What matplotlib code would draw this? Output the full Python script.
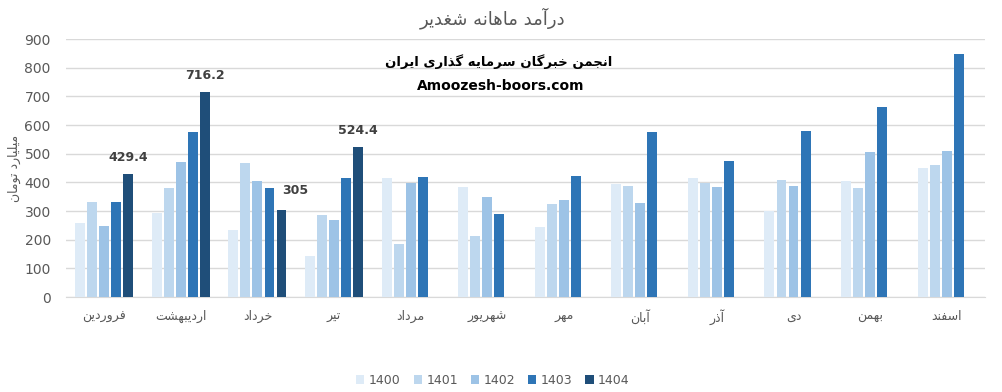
import numpy as np
import matplotlib
matplotlib.use("Agg")
import matplotlib.pyplot as plt
from matplotlib.patches import Patch

# ---------------- data ----------------
months = ["فروردین", "اردیبهشت", "خرداد", "تیر", "مرداد", "شهریور",
          "مهر", "آبان", "آذر", "دی", "بهمن", "اسفند"]
years = ["1400", "1401", "1402", "1403", "1404"]
v1400 = [258, 294, 234, 143, 416, 384, 245, 395, 416, 300, 405, 451]
v1401 = [332, 381, 468, 287, 185, 213, 325, 388, 398, 409, 381, 461]
v1402 = [248, 472, 405, 269, 398, 350, 339, 328, 384, 388, 507, 510]
v1403 = [332, 577, 381, 416, 419, 290, 423, 577, 475, 580, 664, 849]
v1404 = [429.4, 716.2, 305, 524.4, None, None, None, None, None, None, None, None]
series = [v1400, v1401, v1402, v1403, v1404]
colors = ["#DEEBF7", "#BDD7EE", "#9DC3E6", "#2E75B6", "#1F4E79"]
title_text = "درآمد ماهانه شغدیر"
ylabel_text = "میلیارد تومان"
wm1 = "انجمن خبرگان سرمایه گذاری ایران"
wm2 = "Amoozesh-boors.com"

# ------------- minimal Persian shaping (presentation forms) -------------
FORMS = {  # iso, fin, ini, med
    "ا": ("\uFE8D", "\uFE8E", None, None),
    "آ": ("\uFE81", "\uFE82", None, None),
    "ب": ("\uFE8F", "\uFE90", "\uFE91", "\uFE92"),
    "ت": ("\uFE95", "\uFE96", "\uFE97", "\uFE98"),
    "ج": ("\uFE9D", "\uFE9E", "\uFE9F", "\uFEA0"),
    "خ": ("\uFEA5", "\uFEA6", "\uFEA7", "\uFEA8"),
    "د": ("\uFEA9", "\uFEAA", None, None),
    "ذ": ("\uFEAB", "\uFEAC", None, None),
    "ر": ("\uFEAD", "\uFEAE", None, None),
    "ز": ("\uFEAF", "\uFEB0", None, None),
    "س": ("\uFEB1", "\uFEB2", "\uFEB3", "\uFEB4"),
    "ش": ("\uFEB5", "\uFEB6", "\uFEB7", "\uFEB8"),
    "غ": ("\uFECD", "\uFECE", "\uFECF", "\uFED0"),
    "ف": ("\uFED1", "\uFED2", "\uFED3", "\uFED4"),
    "ل": ("\uFEDD", "\uFEDE", "\uFEDF", "\uFEE0"),
    "م": ("\uFEE1", "\uFEE2", "\uFEE3", "\uFEE4"),
    "ن": ("\uFEE5", "\uFEE6", "\uFEE7", "\uFEE8"),
    "ه": ("\uFEE9", "\uFEEA", "\uFEEB", "\uFEEC"),
    "و": ("\uFEED", "\uFEEE", None, None),
    "ی": ("\uFBFC", "\uFBFD", "\uFBFE", "\uFBFF"),
    "پ": ("\uFB56", "\uFB57", "\uFB58", "\uFB59"),
    "ک": ("\uFB8E", "\uFB8F", "\uFB90", "\uFB91"),
    "گ": ("\uFB92", "\uFB93", "\uFB94", "\uFB95"),
}


def shape(s):
    out = []
    n = len(s)
    for i, c in enumerate(s):
        if c not in FORMS:
            out.append(c)
            continue
        f = FORMS[c]
        dual = f[2] is not None
        prev = s[i - 1] if i > 0 else None
        nxt = s[i + 1] if i + 1 < n else None
        jp = prev in FORMS and FORMS[prev][2] is not None
        jn = dual and nxt in FORMS
        if jp and jn:
            out.append(f[3])
        elif jp:
            out.append(f[1])
        elif jn:
            out.append(f[2])
        else:
            out.append(f[0])
    return "".join(out)[::-1]


plt.rcParams["font.family"] = ["DejaVu Sans"]

fig = plt.figure(figsize=(10.02, 3.92), dpi=100)
ax = fig.add_axes([0.0659, 0.2423, 0.9171, 0.6582])

x = np.arange(len(months))
step = 0.157
width = 0.13
for j, (vals, col) in enumerate(zip(series, colors)):
    xs = [xi + (j - 2) * step for xi, v in zip(x, vals) if v is not None]
    hs = [v for v in vals if v is not None]
    ax.bar(xs, hs, width=width, color=col, zorder=3)

# data labels for 1404
offsets = [(0, 7), (0, 7), (10, 9), (0, 7)]
for xi, v, off in zip(x, v1404, offsets):
    if v is None:
        continue
    lab = f"{v:g}"
    ax.annotate(lab, (xi + 2 * step, v), xytext=off, textcoords="offset points",
                ha="center", va="bottom", fontsize=9, fontweight="bold",
                color="#404040")

ax.set_xlim(-0.5, len(months) - 0.5)
ax.set_ylim(0, 900)
ax.set_yticks(range(0, 901, 100))
ax.set_xticks(x)
ax.set_xticklabels([shape(m) for m in months], fontsize=9, color="#595959")
ax.tick_params(axis="y", labelsize=10, labelcolor="#595959", length=0, pad=11)
ax.tick_params(axis="x", length=0, pad=9)
ax.grid(axis="y", color="#D9D9D9", linewidth=1, zorder=0)
for sp in ["top", "right", "left"]:
    ax.spines[sp].set_visible(False)
ax.spines["bottom"].set_color("#D9D9D9")

fig.text(0.492, 0.955, shape(title_text), ha="center", va="center",
         fontsize=13, color="#595959")
fig.text(0.014, 0.57, shape(ylabel_text), rotation=90, ha="center",
         va="center", fontsize=9, color="#595959")
fig.text(0.498, 0.842, shape(wm1), ha="center", va="center", fontsize=9.5,
         fontweight="bold", color="black")
fig.text(0.5, 0.78, wm2, ha="center", va="center", fontsize=10,
         fontweight="bold", color="black")

handles = [Patch(facecolor=c, edgecolor="none") for c in colors]
fig.legend(handles, years, loc="center", bbox_to_anchor=(0.492, 0.03),
           ncol=5, frameon=False, fontsize=9, handlelength=0.65,
           handleheight=0.65, handletextpad=0.35, columnspacing=1.05,
           labelcolor="#595959")

fig.savefig("out.png", dpi=100)
